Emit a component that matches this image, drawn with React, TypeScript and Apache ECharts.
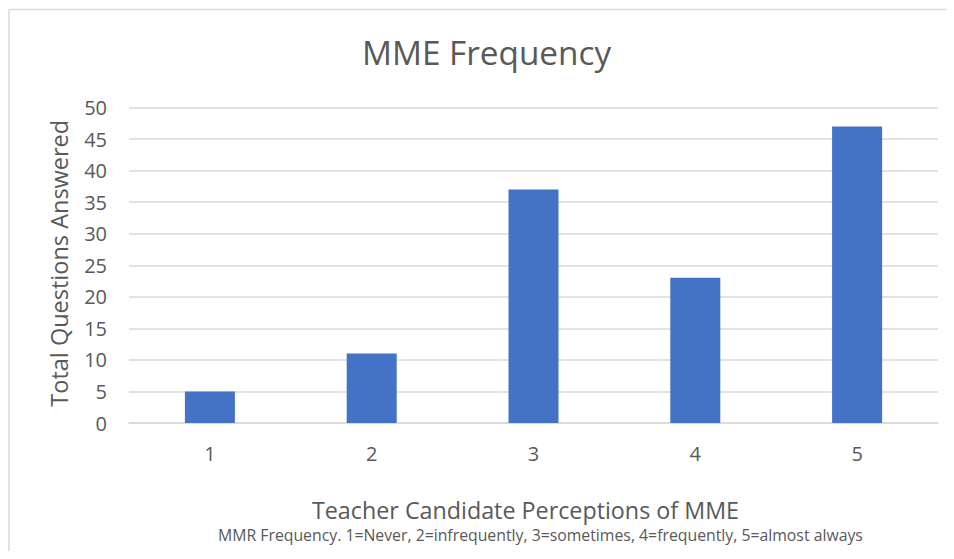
import React, { useEffect, useRef } from "react";
import * as echarts from "echarts";

const categories = ["1", "2", "3", "4", "5"];
const values = [5, 11, 37, 23, 47];
const titleText = "MME Frequency";
const yAxisTitle = "Total Questions Answered";
const xAxisTitle = "Teacher Candidate Perceptions of MME";
const noteText =
  "MMR Frequency. 1=Never, 2=infrequently, 3=sometimes, 4=frequently, 5=almost always";

const FONT = "'Open Sans', sans-serif";
const GRAY = "#595959";

export default function App() {
  const ref = useRef<HTMLDivElement>(null);
  useEffect(() => {
    if (!ref.current) return;
    document.documentElement.style.overflow = "hidden";
    document.body.style.overflow = "hidden";
    const chart = echarts.init(ref.current, undefined, { renderer: "svg" });
    chart.setOption({
      animation: false,
      backgroundColor: "#ffffff",
      title: {
        text: titleText,
        left: 349,
        top: 22,
        textStyle: { fontFamily: FONT, fontSize: 33.3, fontWeight: "normal", color: GRAY },
      },
      grid: { left: 121, right: 16, top: 99.5, bottom: 128, containLabel: false },
      xAxis: {
        type: "category",
        data: categories,
        axisLine: { show: true, lineStyle: { color: "#d9d9d9", width: 1.5 } },
        axisTick: { show: false },
        axisLabel: { fontFamily: FONT, fontSize: 20, color: GRAY, margin: 20 },
        name: xAxisTitle,
        nameLocation: "middle",
        nameGap: 75,
        nameTextStyle: { fontFamily: FONT, fontSize: 23.3, color: GRAY, padding: [0, 16, 0, 0] },
      },
      yAxis: {
        type: "value",
        min: 0,
        max: 50,
        interval: 5,
        axisLine: { show: false },
        axisTick: { show: false },
        splitLine: { lineStyle: { color: "#d9d9d9", width: 1.5 } },
        axisLabel: { fontFamily: FONT, fontSize: 20, color: GRAY, margin: 22 },
        name: yAxisTitle,
        nameLocation: "middle",
        nameGap: 58,
        nameTextStyle: { fontFamily: FONT, fontSize: 23.5, color: GRAY, padding: [0, 0, 0, 4] },
      },
      series: [
        {
          type: "bar",
          data: values,
          barWidth: 50,
          itemStyle: { color: "#4472C4" },
        },
      ],
      graphic: [
        {
          type: "rect",
          shape: { x: 931, y: 3, width: 20, height: 560 },
          style: { fill: "#ffffff" },
          silent: true,
          z: 100,
        },
        {
          type: "line",
          shape: { x1: 1, y1: 1.5, x2: 960, y2: 1.5 },
          style: { stroke: "#d9d9d9", lineWidth: 1.5 },
          silent: true,
          z: 101,
        },
        {
          type: "line",
          shape: { x1: 1, y1: 1.5, x2: 1, y2: 543 },
          style: { stroke: "#d9d9d9", lineWidth: 1.5 },
          silent: true,
        },
        {
          type: "text",
          left: 210,
          top: 519,
          style: { text: noteText, fontFamily: FONT, fontSize: 15.8, fill: GRAY },
        },
      ],
    });
    return () => chart.dispose();
  }, []);
  return <div ref={ref} style={{ width: 946, height: 543 }} />;
}
